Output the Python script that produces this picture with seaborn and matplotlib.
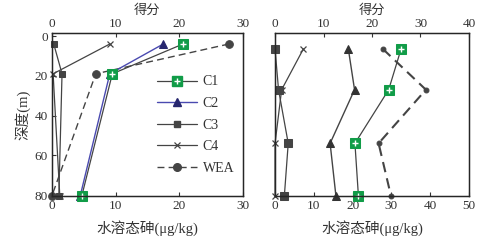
import numpy as np
import pandas as pd
import seaborn as sns
import matplotlib.pyplot as plt
from matplotlib.lines import Line2D

sns.set_style('ticks')
plt.rcParams['font.family'] = ['Liberation Serif', 'Noto Sans CJK SC']
plt.rcParams['axes.unicode_minus'] = False

# left panel: three sampling depths
depth_l = [4, 19, 80.5]
c1_l = [20.6, 9.5, 4.7]
c2_l = [17.5, 9.1, 4.45]
c3_l = [0.3, 1.6, 1.1]
c4_l = [9.1, 0.2, 1.25]
wea_l = [27.8, 6.9, 0.0]

# right panel: four sampling depths
depth_r = [6.5, 27, 54, 80.5]
c1_r = [32.5, 29.3, 20.6, 21.5]
c2_r = [18.9, 20.5, 14.2, 15.7]
c3_r = [0.0, 0.9, 3.4, 2.4]
c4_r = [7.3, 1.7, 0.0, 0.0]
wea_r = [27.8, 38.9, 26.7, 29.9]

series = ['C1', 'C2', 'C3', 'C4', 'WEA']
green = '#119c48'
gray = '#444444'
navy = '#26266e'
txt = '#333333'

fig = plt.figure(figsize=(4.8, 2.45), dpi=100)
ax1 = fig.add_axes([0.108, 0.2, 0.398, 0.665])
ax2 = fig.add_axes([0.573, 0.2, 0.404, 0.665])


def draw(ax, depth, c1, c2, c3, c4, wea, left):
    kw = dict(sort=False, estimator=None, ax=ax, legend=False, clip_on=False)
    sns.lineplot(x=c4, y=depth, color=gray, lw=0.9, marker='x', ms=5, mew=0.9,
                 mec=gray, **kw)
    sns.lineplot(x=c3, y=depth, color=gray, lw=0.9, marker='s', ms=5 if left else 6,
                 mec=gray, mfc=gray, **kw)
    sns.lineplot(x=wea, y=depth, color=gray, lw=1.0 if left else 1.5,
                 marker='o', ms=5.5 if left else 3.5, mec=gray, mfc=gray,
                 dashes=(5, 3), **kw)
    sns.lineplot(x=c2, y=depth, color='#4a4ab0' if left else gray, lw=1.0,
                 marker='^', ms=6, mec=navy if left else '#333333',
                 mfc=navy if left else '#333333', **kw)
    sns.lineplot(x=c1, y=depth, color=gray, lw=0.9, marker='s', ms=7,
                 mfc=green, mec=green, **kw)
    ax.plot(c1, depth, ls='none', marker='+', ms=4, mew=1.0, color='white',
            clip_on=False)


draw(ax1, depth_l, c1_l, c2_l, c3_l, c4_l, wea_l, True)
draw(ax2, depth_r, c1_r, c2_r, c3_r, c4_r, wea_r, False)

for ax in (ax1, ax2):
    ax.set_ylim(80.5, -1.5)
    for s in ax.spines.values():
        s.set_visible(True)
        s.set_linewidth(1.0)
        s.set_color('#222222')
    ax.tick_params(direction='in', length=3, labelsize=9.5, colors=txt, pad=3)
    ax.set_xlabel('水溶态砷(μg/kg)', fontsize=10.5, color=txt, labelpad=6)

ax1.set_xlim(0, 30)
ax1.set_xticks([0, 10, 20, 30])
ax1.set_yticks([0, 20, 40, 60, 80])
ax1.set_ylabel('深度(m)', fontsize=10.5, color=txt, labelpad=3)

ax2.set_xlim(0, 50)
ax2.set_xticks([0, 10, 20, 30, 40, 50])
ax2.set_yticks([])
ax2.set_ylabel('')

top1 = ax1.twiny()
top1.set_xlim(0, 30)
top1.set_xticks([0, 10, 20, 30])
top2 = ax2.twiny()
top2.set_xlim(0, 40)
top2.set_xticks([0, 10, 20, 30, 40])
for t in (top1, top2):
    t.tick_params(direction='in', length=3, labelsize=9.5, colors=txt, pad=2)
    t.set_xlabel('得分', fontsize=9.5, color=txt, labelpad=3)

# legend
c1_h = (Line2D([], [], color=gray, lw=0.9, marker='s', ms=7, mfc=green, mec=green),
        Line2D([], [], ls='none', marker='+', ms=4, mew=1.0, color='white'))
handles = [
    c1_h,
    Line2D([], [], color='#4a4ab0', lw=1.0, marker='^', ms=6, mfc=navy, mec=navy),
    Line2D([], [], color=gray, lw=0.9, marker='s', ms=4.5, mec=gray, mfc=gray),
    Line2D([], [], color=gray, lw=0.9, marker='x', ms=5, mew=0.9),
    Line2D([], [], color=gray, lw=1.0, marker='o', ms=5.5, dashes=(5, 3)),
]
leg = ax1.legend(handles, series, loc='upper left', bbox_to_anchor=(0.55, 0.74),
                 frameon=False, fontsize=10, handlelength=2.9, labelspacing=0.62,
                 handletextpad=0.4, borderpad=0, borderaxespad=0)
for t in leg.get_texts():
    t.set_color(txt)

fig.savefig('out.png', dpi=100)
